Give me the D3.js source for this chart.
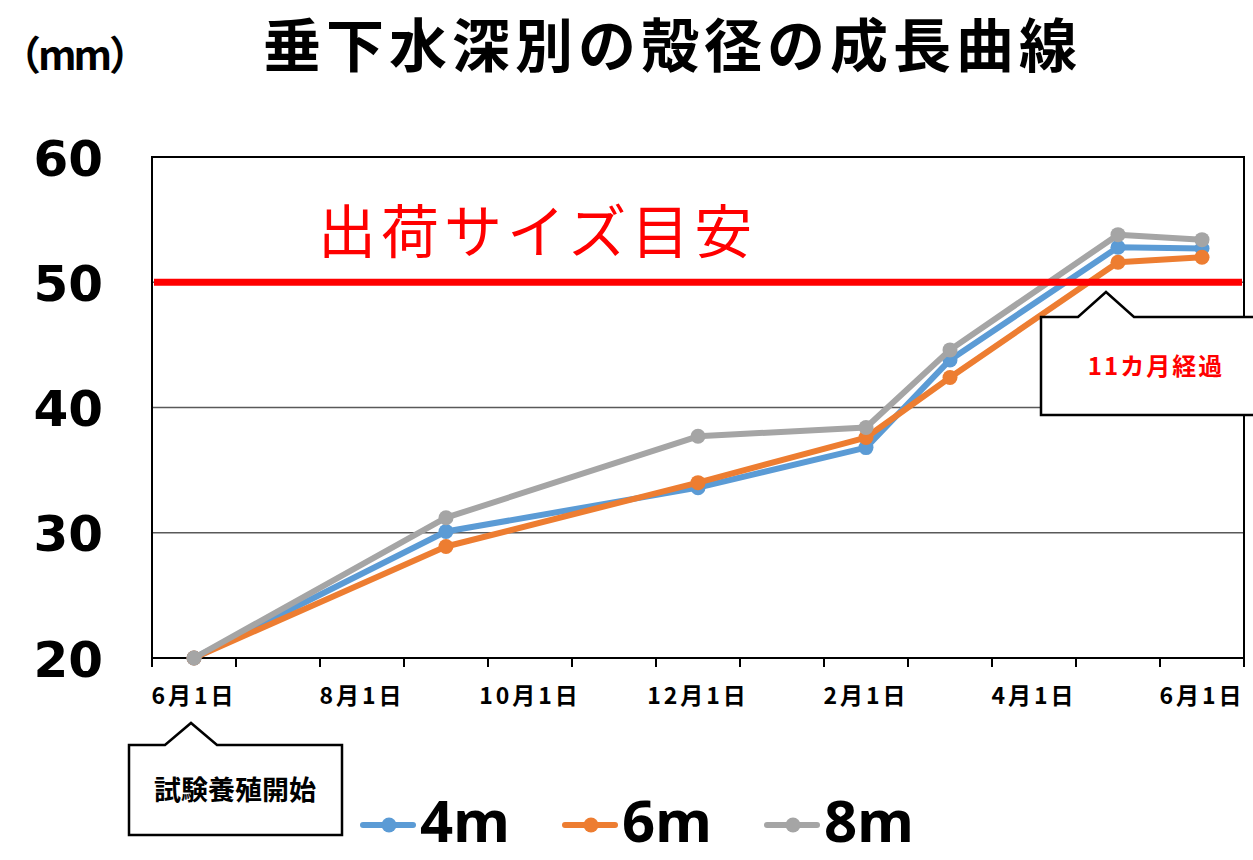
<!DOCTYPE html>
<html>
<head>
<meta charset="utf-8">
<script src="https://cdn.jsdelivr.net/npm/d3@7"></script>
<style>
  body { margin: 0; background: #fff; }
  svg { display: block; }
  .jp { font-family: "Noto Sans CJK JP", "Noto Sans", sans-serif; }
</style>
</head>
<body>
<svg id="chart"></svg>
<script>
// months on the axis (one band per month), labels every other month
const months = ["2018-06", "2018-07", "2018-08", "2018-09", "2018-10", "2018-11", "2018-12",
                "2019-01", "2019-02", "2019-03", "2019-04", "2019-05", "2019-06"]
const monthLabels = ["6月1日", "", "8月1日", "", "10月1日", "", "12月1日", "", "2月1日", "", "4月1日", "", "6月1日"]

// measurement dates
const sampleMonths = ["2018-06", "2018-09", "2018-12", "2019-02", "2019-03", "2019-05", "2019-06"]

const seriesNames = ["4m", "6m", "8m"]
const values4m = [20, 30.1, 33.6, 36.8, 43.8, 52.8, 52.7]
const values6m = [20, 28.9, 34.0, 37.6, 42.4, 51.6, 52.0]
const values8m = [20, 31.2, 37.7, 38.4, 44.6, 53.8, 53.4]

const yTicks = [20, 30, 40, 50, 60]
const shipSize = 50
const shipLabel = "出荷サイズ目安"
const startLabel = "試験養殖開始"
const startMonth = "2018-06"
const elapsedLabel = "11カ月経過"
const elapsedMonth = "2019-05"

const title = "垂下水深別の殻径の成長曲線"
const unit = "（mm）"

const colors = ["#5B9BD5", "#ED7D31", "#A5A5A5"]

let width = 1253
let height = 860
let plotLeft = 152, plotRight = 1244, plotTop = 157, plotBottom = 658

let svg = d3.select("#chart")
    .attr("width", width)
    .attr("height", height)

let x = d3.scaleBand().domain(months).range([plotLeft, plotRight])
let y = d3.scaleLinear().domain([20, 60]).range([plotBottom, plotTop])
let cx = m => x(m) + x.bandwidth() / 2

// gridlines
svg.append("g")
    .selectAll("line")
    .data(yTicks.filter(d => d > 20 && d < 60))
    .enter().append("line")
    .attr("x1", plotLeft).attr("x2", plotRight)
    .attr("y1", d => y(d)).attr("y2", d => y(d))
    .attr("stroke", "#595959")
    .attr("stroke-width", 1.5)

// frame
svg.append("rect")
    .attr("x", plotLeft).attr("y", plotTop)
    .attr("width", plotRight - plotLeft).attr("height", plotBottom - plotTop)
    .attr("fill", "none")
    .attr("stroke", "#000")
    .attr("stroke-width", 2)

// y axis labels
let yAxis = svg.append("g")
    .attr("transform", `translate(${plotLeft}, 0)`)
    .call(d3.axisLeft(y).tickValues(yTicks).tickSize(0).tickPadding(49))
yAxis.select(".domain").remove()
yAxis.selectAll("text")
    .attr("font-family", "DejaVu Sans, sans-serif")
    .attr("font-weight", "bold")
    .attr("font-size", 50)
    .attr("fill", "#000")
    .attr("dy", "0.36em")

// x axis labels
let xAxis = svg.append("g")
    .attr("transform", `translate(0, ${plotBottom})`)
    .call(d3.axisBottom(x).tickSize(0).tickFormat((d, i) => monthLabels[i]))
xAxis.select(".domain").remove()
xAxis.selectAll("text")
    .attr("class", "jp")
    .attr("font-weight", "bold")
    .attr("font-size", 23)
    .attr("letter-spacing", 3)
    .attr("fill", "#000")
    .attr("y", 46)
    .attr("dy", 0)

// tick marks at month boundaries
svg.append("g")
    .selectAll("line")
    .data(d3.range(months.length + 1))
    .enter().append("line")
    .attr("x1", i => plotLeft + i * x.step()).attr("x2", i => plotLeft + i * x.step())
    .attr("y1", plotBottom).attr("y2", plotBottom + 9)
    .attr("stroke", "#000")
    .attr("stroke-width", 2)

// series
let allValues = [values4m, values6m, values8m]
let line = d3.line()
    .x((d, i) => cx(sampleMonths[i]))
    .y(d => y(d))

allValues.forEach((vals, s) => {
    svg.append("path")
        .datum(vals)
        .attr("d", line)
        .attr("fill", "none")
        .attr("stroke", colors[s])
        .attr("stroke-width", 6)
        .attr("stroke-linejoin", "round")
    svg.append("g")
        .selectAll("circle")
        .data(vals)
        .enter().append("circle")
        .attr("cx", (d, i) => cx(sampleMonths[i]))
        .attr("cy", d => y(d))
        .attr("r", 7.5)
        .attr("fill", colors[s])
})

// shipping size line
svg.append("line")
    .attr("x1", plotLeft + 2).attr("x2", plotRight - 2)
    .attr("y1", y(shipSize)).attr("y2", y(shipSize))
    .attr("stroke", "#FF0000")
    .attr("stroke-width", 7)

svg.append("text")
    .attr("class", "jp")
    .attr("x", 318)
    .attr("y", y(shipSize) - 29)
    .attr("font-size", 58)
    .attr("letter-spacing", 5)
    .attr("fill", "#FF0000")
    .text(shipLabel)

// callout boxes
function callout(tipX, tipY, boxL, boxR, boxT, boxB, half) {
    let p = d3.path()
    p.moveTo(boxL, boxT)
    p.lineTo(tipX - half, boxT)
    p.lineTo(tipX, tipY)
    p.lineTo(tipX + half, boxT)
    p.lineTo(boxR, boxT)
    p.lineTo(boxR, boxB)
    p.lineTo(boxL, boxB)
    p.closePath()
    svg.append("path")
        .attr("d", p.toString())
        .attr("fill", "#fff")
        .attr("stroke", "#000")
        .attr("stroke-width", 2.5)
}

let tip1 = cx(startMonth) - 3
callout(tip1, 723, 129, 342, 745, 835, 26)
svg.append("text")
    .attr("class", "jp")
    .attr("x", 235)
    .attr("y", 800)
    .attr("text-anchor", "middle")
    .attr("font-size", 27)
    .attr("font-weight", "bold")
    .attr("fill", "#000")
    .text(startLabel)

let tip2 = cx(elapsedMonth) - 12
callout(tip2, 292, 1041, 1262, 317, 415, 28)
svg.append("text")
    .attr("class", "jp")
    .attr("x", 1156)
    .attr("y", 375)
    .attr("text-anchor", "middle")
    .attr("font-size", 24)
    .attr("font-weight", "bold")
    .attr("letter-spacing", 2)
    .attr("fill", "#FF0000")
    .text(elapsedLabel)

// title and unit
svg.append("text")
    .attr("class", "jp")
    .attr("x", 263)
    .attr("y", 67)
    .attr("font-size", 58)
    .attr("font-weight", "bold")
    .attr("letter-spacing", 5)
    .attr("fill", "#000")
    .text(title)

svg.append("text")
    .attr("class", "jp")
    .attr("x", 1)
    .attr("y", 70)
    .attr("font-size", 40)
    .attr("font-weight", "bold")
    .attr("letter-spacing", -3)
    .attr("fill", "#000")
    .text(unit)

// legend
let legendX = [363, 565, 767]
let legend = svg.append("g")
seriesNames.forEach((name, s) => {
    let g = legend.append("g").attr("transform", `translate(${legendX[s]}, 825)`)
    g.append("line")
        .attr("x1", 0).attr("x2", 50)
        .attr("stroke", colors[s])
        .attr("stroke-width", 6)
        .attr("stroke-linecap", "round")
    g.append("circle")
        .attr("cx", 26).attr("r", 7.5)
        .attr("fill", colors[s])
    g.append("text")
        .attr("x", 57)
        .attr("y", 17)
        .attr("font-family", "Noto Sans, sans-serif")
        .attr("font-size", 58)
        .attr("font-weight", "bold")
        .attr("fill", "#000")
        .text(name)
})
</script>
</body>
</html>
